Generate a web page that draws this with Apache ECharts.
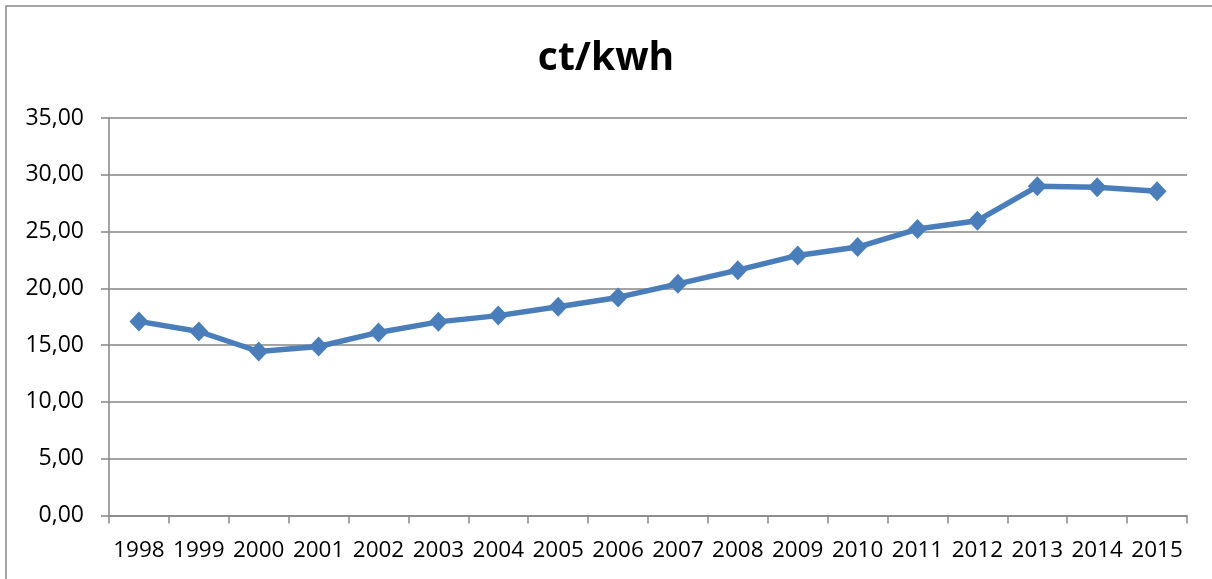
<!DOCTYPE html>
<html>
<head>
<meta charset="utf-8">
<script src="https://cdn.jsdelivr.net/npm/echarts@6/dist/echarts.min.js"></script>
<style>
html,body{margin:0;padding:0;background:#fff;}
#chart{width:1212px;height:579px;}
</style>
</head>
<body>
<div id="chart"></div>
<script>
const titleText = 'ct/kwh';
const years = ['1998','1999','2000','2001','2002','2003','2004','2005','2006','2007','2008','2009','2010','2011','2012','2013','2014','2015'];
const prices = [17.09, 16.2, 14.44, 14.88, 16.12, 17.05, 17.6, 18.38, 19.2, 20.4, 21.6, 22.9, 23.64, 25.22, 25.96, 28.98, 28.9, 28.54];
const yMin = 0, yMax = 35, yStep = 5;

const chart = echarts.init(document.getElementById('chart'), null, {renderer:'canvas'});
const font = 'Open Sans';
chart.setOption({
  animation: false,
  backgroundColor: '#ffffff',
  graphic: [{
    type: 'rect',
    shape: {x: 6, y: 6, width: 1400, height: 800},
    style: {fill: 'none', stroke: '#898989', lineWidth: 1.5},
    silent: true
  }],
  title: {
    text: titleText,
    left: 'center',
    top: 34,
    textStyle: {fontFamily: font, fontWeight: 'bold', fontSize: 39, color: '#000'}
  },
  grid: {left: 109, right: 25, top: 118, bottom: 63.5},
  xAxis: {
    type: 'category',
    data: years,
    boundaryGap: true,
    axisLine: {lineStyle: {color: '#868686', width: 1.5}},
    axisTick: {show: true, alignWithLabel: false, length: 8, lineStyle: {color: '#868686', width: 1.5}},
    axisLabel: {interval: 0, fontFamily: font, fontSize: 22.5, color: '#000', margin: 24}
  },
  yAxis: {
    type: 'value',
    min: yMin, max: yMax, interval: yStep,
    axisLine: {show: true, lineStyle: {color: '#868686', width: 1.5}},
    axisTick: {show: true, length: 8, lineStyle: {color: '#868686', width: 1.5}},
    splitLine: {lineStyle: {color: '#868686', width: 1.5}},
    axisLabel: {fontFamily: font, fontSize: 23, color: '#000', margin: 25,
      formatter: v => v.toFixed(2).replace('.', ',')}
  },
  series: [{
    type: 'line',
    data: prices,
    symbol: 'diamond',
    symbolSize: [19, 20],
    lineStyle: {color: '#4a7ebb', width: 5.5},
    itemStyle: {color: '#4a7ebb'}
  }]
});
</script>
</body>
</html>
